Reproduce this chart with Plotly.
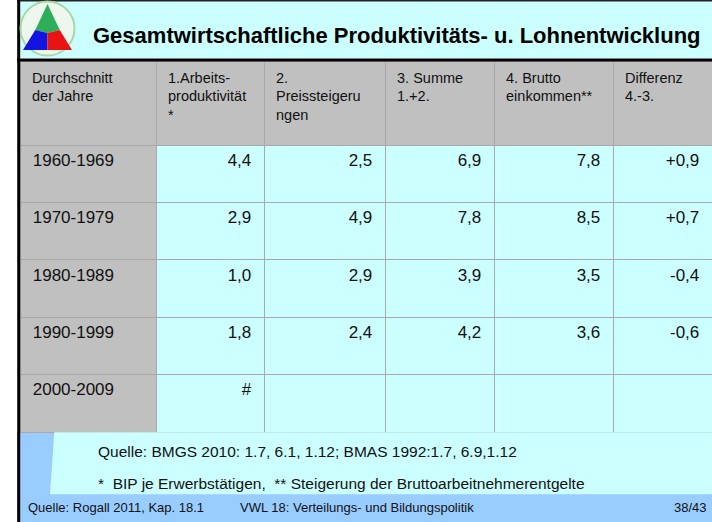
import plotly.graph_objects as go

W, H = 712, 522

# ---- data ----
title = "Gesamtwirtschaftliche Produktivitäts- u. Lohnentwicklung"
header_labels = [
    ["Durchschnitt", "der Jahre"],
    ["1.Arbeits-", "produktivität", "*"],
    ["2.", "Preissteigeru", "ngen"],
    ["3. Summe", "1.+2."],
    ["4. Brutto", "einkommen**"],
    ["Differenz", "4.-3."],
]
periods = ["1960-1969", "1970-1979", "1980-1989", "1990-1999", "2000-2009"]
productivity = [4.4, 2.9, 1.0, 1.8, "#"]
price_increase = [2.5, 4.9, 2.9, 2.4, None]
sum_1_2 = [6.9, 7.8, 3.9, 4.2, None]
gross_income = [7.8, 8.5, 3.5, 3.6, None]
difference = [0.9, 0.7, -0.4, -0.6, None]

source_line = "Quelle: BMGS 2010: 1.7, 6.1, 1.12; BMAS 1992:1.7, 6.9,1.12"
note_line = "*\u00a0\u00a0BIP je Erwerbstätigen,\u00a0\u00a0** Steigerung der Bruttoarbeitnehmerentgelte"
footer_left = "Quelle: Rogall 2011, Kap. 18.1"
footer_mid = "VWL 18: Verteilungs- und Bildungspolitik"
footer_right = "38/43"

NB = "\u00a0"
FONT = "Liberation Sans, Arial, sans-serif"
GRAY = "#c0c0c0"
CYAN = "#ccffff"
BLUE = "#99ccff"
LINE = "#a9a9a9"


def de(v, signed=False):
    if v is None:
        return ""
    if isinstance(v, str):
        return v
    s = f"{abs(v):.1f}".replace(".", ",")
    if signed:
        return ("+" if v >= 0 else "-") + s
    return ("-" if v < 0 else "") + s


def px(x):
    return x / W


def py(y):
    return 1 - y / H


header_vals = ["<br>".join(NB + l for l in lines) for lines in header_labels]
col_first = [NB + p for p in periods]
num_cols = [productivity, price_increase, sum_1_2, gross_income]
cells = [col_first] + [[de(v) + NB for v in c] for c in num_cols] + \
        [[de(v, signed=True) + NB for v in difference]]

widths = [136, 108, 121, 109, 119, 99]

fig = go.Figure()
fig.add_trace(go.Table(
    domain=dict(x=[px(20), 1], y=[py(436), py(61.5)]),
    columnwidth=widths,
    header=dict(
        values=header_vals,
        fill_color=GRAY,
        line=dict(color=LINE, width=1),
        align="left",
        font=dict(family=FONT, size=14.5, color="#111111"),
        height=83.5,
    ),
    cells=dict(
        values=cells,
        fill_color=[[GRAY] * 5] + [[CYAN] * 5] * 5,
        line=dict(color=LINE, width=1),
        align=["left", "right", "right", "right", "right", "right"],
        font=dict(family=FONT, size=17, color="#111111"),
        height=57.4,
    ),
))

shapes = []
# title bar
shapes.append(dict(type="rect", xref="paper", yref="paper", x0=px(17), x1=1, y0=py(58), y1=1,
                   fillcolor=CYAN, line=dict(width=0), layer="below"))
# footer blue area
shapes.append(dict(type="rect", xref="paper", yref="paper", x0=px(17), x1=1, y0=0, y1=py(432),
                   fillcolor=BLUE, line=dict(width=0), layer="below"))
# cyan note box with slanted left edge
shapes.append(dict(type="path", xref="paper", yref="paper",
                   path=f"M {px(54.3)},{py(432.3)} L 1,{py(432.3)} L 1,{py(494.3)} L {px(50)},{py(494.3)} Z",
                   fillcolor=CYAN, line=dict(width=0), layer="above"))
# top border line
shapes.append(dict(type="line", xref="paper", yref="paper", x0=px(17), x1=1, y0=py(0.8), y1=py(0.8),
                   line=dict(color="#222222", width=1.5), layer="above"))
# title bottom black line
shapes.append(dict(type="line", xref="paper", yref="paper", x0=px(17), x1=1, y0=py(60), y1=py(60),
                   line=dict(color="#000000", width=3), layer="above"))
# left black border
shapes.append(dict(type="line", xref="paper", yref="paper", x0=px(18.7), x1=px(18.7), y0=0, y1=1,
                   line=dict(color="#000000", width=3), layer="above"))

# logo: ellipse + divided triangle
cx, cy = 47.5, 28.5
shapes.append(dict(type="circle", xref="paper", yref="paper",
                   x0=px(cx - 27), x1=px(cx + 27), y0=py(cy + 27), y1=py(cy - 27),
                   fillcolor="#eef7ee", line=dict(color="#a8d8a8", width=2), layer="above"))
apex = (47.5, 4)
bl = (23, 50)
br = (72, 50)
c = (47.5, 33)
ml = ((apex[0] + bl[0]) / 2, (apex[1] + bl[1]) / 2 + 3)
mr = ((apex[0] + br[0]) / 2, (apex[1] + br[1]) / 2 + 3)
mb = (47.5, 50)


def poly(pts, color):
    d = "M " + " L ".join(f"{px(x)},{py(y)}" for x, y in pts) + " Z"
    return dict(type="path", xref="paper", yref="paper", path=d, fillcolor=color,
                line=dict(width=0), layer="above")


shapes.append(poly([apex, mr, c, ml], "#2fae5a"))
shapes.append(poly([ml, c, mb, bl], "#1414e0"))
shapes.append(poly([mr, br, mb, c], "#e81414"))

annotations = [
    dict(text=f"<b>{title}</b>", x=px(91), y=py(35), xanchor="left", yanchor="middle",
         font=dict(family=FONT, size=22, color="#000000")),
    dict(text=source_line, x=px(95.5), y=py(451.5), xanchor="left", yanchor="middle",
         font=dict(family=FONT, size=15.5, color="#111111")),
    dict(text=note_line, x=px(95.5), y=py(483), xanchor="left", yanchor="middle",
         font=dict(family=FONT, size=15.5, color="#111111")),
    dict(text=footer_left, x=px(26), y=py(507.5), xanchor="left", yanchor="middle",
         font=dict(family=FONT, size=13, color="#111111")),
    dict(text=footer_mid, x=px(237.5), y=py(507.5), xanchor="left", yanchor="middle",
         font=dict(family=FONT, size=13, color="#111111")),
    dict(text=footer_right, x=px(709), y=py(507.5), xanchor="right", yanchor="middle",
         font=dict(family=FONT, size=13, color="#111111")),
]
for a in annotations:
    a.update(xref="paper", yref="paper", showarrow=False)

fig.update_layout(
    width=W, height=H,
    margin=dict(l=0, r=0, t=0, b=0),
    paper_bgcolor="white",
    plot_bgcolor="white",
    shapes=shapes,
    annotations=annotations,
)

fig.write_html(
    "out.html",
    config={"displayModeBar": False},
    post_script="document.body.style.margin='0';document.body.style.overflow='hidden';",
)
